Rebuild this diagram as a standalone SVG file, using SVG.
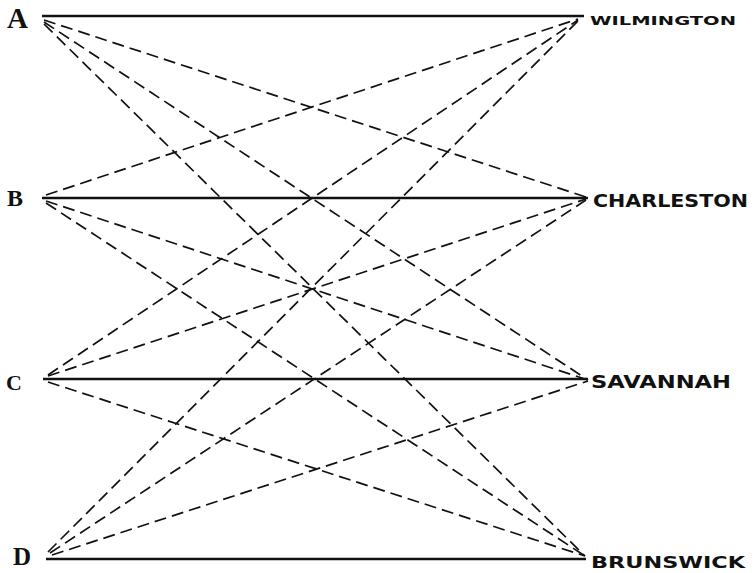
<svg xmlns="http://www.w3.org/2000/svg" width="754" height="573" viewBox="0 0 754 573">
<style>
.solid{stroke:#111;stroke-width:2.6;fill:none}
.dash{stroke:#111;stroke-width:1.7;fill:none;stroke-dasharray:12 6}
.letter{font-family:"Liberation Serif",serif;font-weight:bold;fill:#111}
.city{font-family:"DejaVu Sans",sans-serif;font-weight:bold;fill:#111}
</style>
<rect width="754" height="573" fill="#fff"/>
<g id="connectors">
<line class="solid" x1="42" y1="16" x2="584" y2="16"/>
<line class="solid" x1="42" y1="198" x2="588" y2="198"/>
<line class="solid" x1="43" y1="379" x2="588" y2="379"/>
<line class="solid" x1="46" y1="559" x2="586" y2="559"/>
<line class="dash" x1="44" y1="20" x2="586" y2="197"/>
<line class="dash" x1="44" y1="22" x2="588" y2="380"/>
<line class="dash" x1="44" y1="24" x2="585" y2="556"/>
<line class="dash" x1="46" y1="195" x2="578" y2="19"/>
<line class="dash" x1="46" y1="201" x2="588" y2="380"/>
<line class="dash" x1="46" y1="203" x2="585" y2="556"/>
<line class="dash" x1="48" y1="375" x2="578" y2="20"/>
<line class="dash" x1="48" y1="376" x2="586" y2="199"/>
<line class="dash" x1="48" y1="382" x2="585" y2="556"/>
<line class="dash" x1="48" y1="552" x2="578" y2="21"/>
<line class="dash" x1="50" y1="553" x2="586" y2="200"/>
<line class="dash" x1="52" y1="555" x2="588" y2="381"/>
</g>
<g id="node-A"><text class="letter" x="7" y="28" font-size="29">A</text></g>
<g id="node-B"><text class="letter" x="7" y="206" font-size="24">B</text></g>
<g id="node-C"><text class="letter" x="6" y="390" font-size="22">C</text></g>
<g id="node-D"><text class="letter" x="13" y="565" font-size="25">D</text></g>
<g id="node-WILMINGTON"><text class="city" x="590" y="25" font-size="13" textLength="146" lengthAdjust="spacingAndGlyphs">WILMINGTON</text></g>
<g id="node-CHARLESTON"><text class="city" x="593" y="207" font-size="17" textLength="155" lengthAdjust="spacingAndGlyphs">CHARLESTON</text></g>
<g id="node-SAVANNAH"><text class="city" x="591" y="388" font-size="17" textLength="140" lengthAdjust="spacingAndGlyphs">SAVANNAH</text></g>
<g id="node-BRUNSWICK"><text class="city" x="591" y="568" font-size="16" textLength="154" lengthAdjust="spacingAndGlyphs">BRUNSWICK</text></g>
</svg>
